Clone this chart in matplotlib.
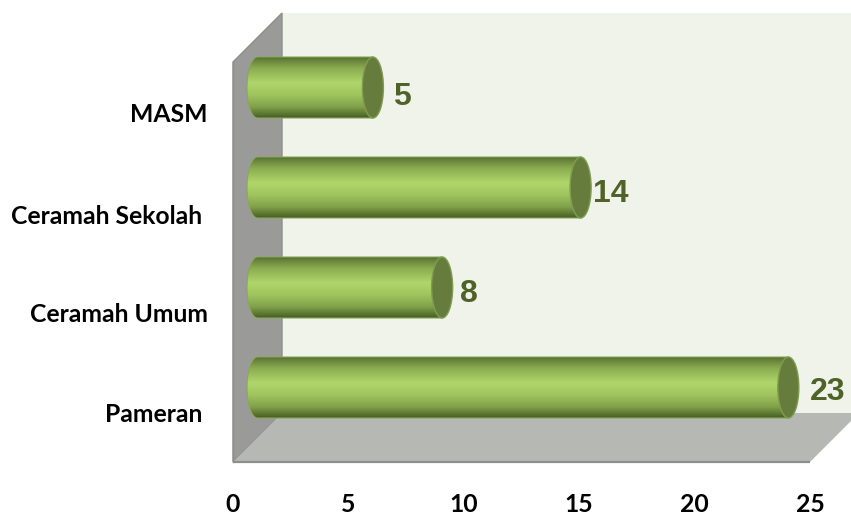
import numpy as np
import matplotlib
matplotlib.use('Agg')
import matplotlib.pyplot as plt
from matplotlib.colors import LinearSegmentedColormap
from matplotlib.patches import Polygon, PathPatch, Ellipse
from matplotlib.path import Path
from matplotlib.transforms import ScaledTranslation

categories = ['Pameran ', 'Ceramah Umum', 'Ceramah Sekolah ', 'MASM']
values = [23, 8, 14, 5]
x_ticks = [0, 5, 10, 15, 20, 25]

# pixel tweaks for the labels (pameran, umum, sekolah, masm)
label_dx = [11, 7, 2, 10]
label_dy = [-5, -7, -7, -9.5]
cat_dy = [1, 0, 2, 1]

W, H = 851, 512
fig = plt.figure(figsize=(W / 100, H / 100), dpi=100)
ax = fig.add_axes([233 / W, (H - 462) / H, 577 / W, 400 / H])
ax.set_xlim(0, 25)
ax.set_ylim(-0.5, 3.5)

# units per pixel, the chart box goes back 49 px up and to the right
ux = 25 / 577
uy = 4 / 400
dx = 49 * ux
dy = 49 * uy
x0, x1, y0, y1 = 0, 25, -0.5, 3.5

back = Polygon([(x0 + dx, y0 + dy), (x1 + 3, y0 + dy), (x1 + 3, y1 + dy), (x0 + dx, y1 + dy)],
               fc='#F0F3EA', ec='none', clip_on=False, zorder=1)
wall = Polygon([(x0, y0), (x0 + dx, y0 + dy), (x0 + dx, y1 + dy), (x0, y1)],
               fc='#9A9B98', ec='#8E8F8C', lw=1, clip_on=False, zorder=2)
floor = Polygon([(x0, y0), (x1, y0), (x1 + dx, y0 + dy), (x0 + dx, y0 + dy)],
                fc='#B6B8B3', ec='none', clip_on=False, zorder=2)
ax.add_patch(back)
ax.add_patch(wall)
ax.add_patch(floor)
ax.plot([x0, x1], [y0, y0], color='#8E8F8C', lw=1.6, clip_on=False, zorder=3, solid_capstyle='butt')
ax.plot([x0, x0], [y0, y1], color='#8E8F8C', lw=1, clip_on=False, zorder=3)

cmap = LinearSegmentedColormap.from_list('cyl', [
    (0.0, '#4F6A2C'), (0.04, '#64803A'), (0.18, '#8BAB50'), (0.42, '#AFD66A'),
    (0.62, '#A0C45E'), (0.82, '#80A04A'), (0.95, '#55702D'), (1.0, '#465A27')])
grad = np.linspace(0, 1, 256).reshape(-1, 1)

half_h = 30.5 * uy
ew = 10.5 * ux
theta = np.linspace(np.pi / 2, 3 * np.pi / 2, 60)

for i, (cat, v) in enumerate(zip(categories, values)):
    cy = i + dy / 2
    cx0 = dx / 2
    cx1 = v + dx / 2
    pts = [(cx1, cy + half_h)]
    pts += [(cx0 + ew * np.cos(t), cy + half_h * np.sin(t)) for t in theta]
    pts += [(cx1, cy - half_h), (cx1, cy + half_h)]
    body = PathPatch(Path(pts), fc='none', ec='#8AA858', lw=0.8, clip_on=False, zorder=5)
    ax.add_patch(body)
    im = ax.imshow(grad, extent=(cx0 - ew, cx1, cy - half_h, cy + half_h), cmap=cmap,
                   aspect='auto', origin='upper', zorder=4)
    im.set_clip_box(fig.bbox)
    im.set_clip_path(PathPatch(Path(pts), transform=ax.transData))
    cap = Ellipse((cx1, cy), 2 * ew, 2 * half_h, fc='#667C3C', ec='#7F9C50', lw=1,
                  clip_on=False, zorder=6)
    ax.add_patch(cap)
    ax.annotate(str(v), (cx1 + ew, cy), xytext=(label_dx[i] * 0.72, label_dy[i] * 0.72),
                textcoords='offset points', ha='left', va='center', fontsize=23,
                fontweight='bold', family='Liberation Sans', color='#4F6228',
                annotation_clip=False, zorder=7)

ax.set_xlim(0, 25)
ax.set_ylim(-0.5, 3.5)
ax.set_xticks(x_ticks)
ax.set_yticks(range(len(categories)))
ax.set_yticklabels(categories)
ax.tick_params(length=0)
ax.tick_params(axis='x', pad=22)
ax.tick_params(axis='y', pad=18)
for lab in ax.get_xticklabels() + ax.get_yticklabels():
    lab.set_family('Lato')
    lab.set_fontweight('bold')
    lab.set_fontsize(17.8)
    lab.set_color('black')
for lab, off in zip(ax.get_yticklabels(), cat_dy):
    lab.set_transform(lab.get_transform() + ScaledTranslation(0, -off / 100, fig.dpi_scale_trans))
for s in ax.spines.values():
    s.set_visible(False)
ax.patch.set_visible(False)

fig.savefig('out.png', dpi=100)
